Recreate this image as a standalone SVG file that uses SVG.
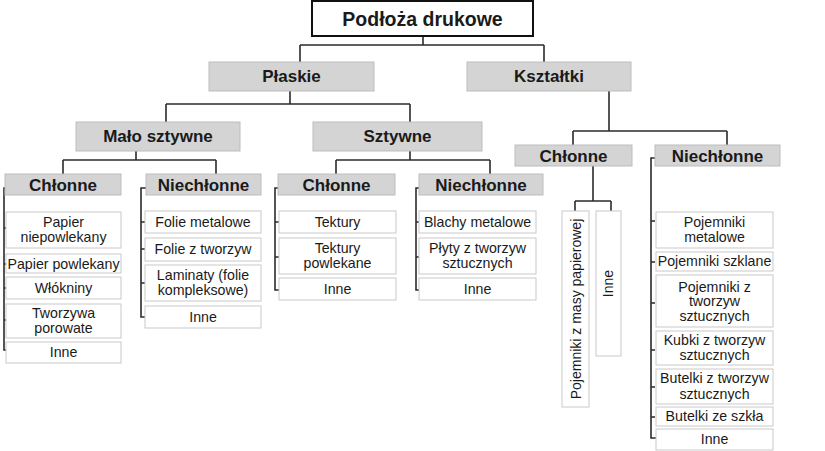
<svg xmlns="http://www.w3.org/2000/svg" width="825" height="451" viewBox="0 0 825 451">
<style>
  .root rect { fill: #ffffff; stroke: #111111; stroke-width: 2; }
  .hdr rect { fill: #d4d4d4; stroke: #bdbdbd; stroke-width: 1; }
  .item rect { fill: #ffffff; stroke: #c9c9c9; stroke-width: 1; }
  text { font-family: "Liberation Sans", Arial, sans-serif; fill: #1a1a1a; text-anchor: middle; }
  .root text { font-size: 19.5px; font-weight: bold; }
  .hdr text { font-size: 17px; font-weight: bold; }
  .item text { font-size: 14.2px; }
  .item text.v { font-size: 14px; }
  .conn path { fill: none; stroke: #2b2b2b; stroke-width: 1.6; }
</style>
<rect width="825" height="451" fill="#ffffff"/>

<g class="conn" id="connectors">
  <path d="M423,36 V45 M300,45 H544 M300,45 V62 M544,45 V62"/>
  <path d="M290,91 V104 M166,104 H410 M166,104 V122 M410,104 V122"/>
  <path d="M609,91 V131 M573,131 H727 M573,131 V145 M727,131 V145"/>
  <path d="M136,151 V160 M63,160 H216 M63,160 V174 M216,160 V174"/>
  <path d="M410,151 V160 M336,160 H490 M336,160 V174 M490,160 V174"/>
  <path d="M593,166 V201 M575,201 H611 M575,201 V211 M611,201 V211"/>
  <path d="M8,188 H4 V350 H8 M4,228 H8 M4,264 H8 M4,288 H8 M4,320 H8"/>
  <path d="M146,188 H141 V317 H146 M141,222 H145 M141,249 H145 M141,283 H145"/>
  <path d="M279,188 H275 V290 H279 M275,222 H279 M275,257 H279"/>
  <path d="M420,188 H416 V290 H420 M416,222 H420 M416,257 H420"/>
  <path d="M656,158 H651 V438 H656 M651,221 H655 M651,262 H655 M651,303 H655 M651,350 H655 M651,387 H655 M651,417 H655"/>
</g>

<g class="root" id="n-root"><rect x="312" y="1" width="221" height="35"/><text x="422.5" y="25.5">Podłoża drukowe</text></g>

<g class="hdr" id="n-plaskie"><rect x="209" y="62" width="165" height="29"/><text x="291.5" y="82">Płaskie</text></g>
<g class="hdr" id="n-ksztaltki"><rect x="467" y="62" width="164" height="29"/><text x="549" y="82">Kształtki</text></g>
<g class="hdr" id="n-malo"><rect x="76" y="122" width="164" height="29"/><text x="158" y="142">Mało sztywne</text></g>
<g class="hdr" id="n-sztywne"><rect x="313" y="122" width="169" height="29"/><text x="397.5" y="142">Sztywne</text></g>
<g class="hdr" id="n-k-chl"><rect x="515" y="145" width="117" height="21"/><text x="573.5" y="161.5">Chłonne</text></g>
<g class="hdr" id="n-k-niechl"><rect x="655" y="145" width="125" height="21"/><text x="717.5" y="161.5">Niechłonne</text></g>
<g class="hdr" id="n-m-chl"><rect x="5" y="174" width="116" height="21"/><text x="63" y="190.5">Chłonne</text></g>
<g class="hdr" id="n-m-niechl"><rect x="146" y="174" width="115" height="21"/><text x="203.5" y="190.5">Niechłonne</text></g>
<g class="hdr" id="n-s-chl"><rect x="278" y="174" width="117" height="21"/><text x="336.5" y="190.5">Chłonne</text></g>
<g class="hdr" id="n-s-niechl"><rect x="419" y="174" width="124" height="21"/><text x="481" y="190.5">Niechłonne</text></g>

<g class="item" id="i-papier-niep"><rect x="6" y="212" width="115" height="36"/><text x="63.5" y="226.5">Papier</text><text x="63.5" y="242">niepowlekany</text></g>
<g class="item" id="i-papier-powl"><rect x="6" y="254" width="115" height="19"/><text x="63.5" y="268.5">Papier powlekany</text></g>
<g class="item" id="i-wlokniny"><rect x="6" y="277" width="115" height="22"/><text x="63.5" y="292.5">Włókniny</text></g>
<g class="item" id="i-tworzywa-por"><rect x="6" y="304" width="115" height="34"/><text x="63.5" y="317.5">Tworzywa</text><text x="63.5" y="333">porowate</text></g>
<g class="item" id="i-m-chl-inne"><rect x="6" y="342" width="115" height="21"/><text x="63.5" y="357">Inne</text></g>

<g class="item" id="i-folie-met"><rect x="145" y="211" width="116" height="22"/><text x="203" y="226.5">Folie metalowe</text></g>
<g class="item" id="i-folie-tw"><rect x="145" y="238" width="116" height="23"/><text x="203" y="254">Folie z tworzyw</text></g>
<g class="item" id="i-laminaty"><rect x="145" y="265" width="116" height="36"/><text x="203" y="279.5">Laminaty (folie</text><text x="203" y="295">kompleksowe)</text></g>
<g class="item" id="i-m-niechl-inne"><rect x="145" y="306" width="116" height="22"/><text x="203" y="321.5">Inne</text></g>

<g class="item" id="i-tektury"><rect x="279" y="211" width="117" height="22"/><text x="337.5" y="226.5">Tektury</text></g>
<g class="item" id="i-tektury-powl"><rect x="279" y="238" width="117" height="36"/><text x="337.5" y="252.5">Tektury</text><text x="337.5" y="268">powlekane</text></g>
<g class="item" id="i-s-chl-inne"><rect x="279" y="278" width="117" height="22"/><text x="337.5" y="293.5">Inne</text></g>

<g class="item" id="i-blachy"><rect x="419" y="211" width="117" height="22"/><text x="477.5" y="226.5">Blachy metalowe</text></g>
<g class="item" id="i-plyty"><rect x="419" y="238" width="117" height="36"/><text x="477.5" y="252.5">Płyty z tworzyw</text><text x="477.5" y="268">sztucznych</text></g>
<g class="item" id="i-s-niechl-inne"><rect x="419" y="278" width="117" height="22"/><text x="477.5" y="293.5">Inne</text></g>

<g class="item" id="i-pojemniki-masy"><rect x="562" y="211" width="27" height="196"/><text class="v" transform="translate(580.5,309) rotate(-90)">Pojemniki z masy papierowej</text></g>
<g class="item" id="i-k-chl-inne"><rect x="596" y="211" width="25" height="145"/><text class="v" transform="translate(613,283.5) rotate(-90)">Inne</text></g>

<g class="item" id="i-poj-met"><rect x="656" y="212" width="117" height="36"/><text x="714.5" y="226.5">Pojemniki</text><text x="714.5" y="242">metalowe</text></g>
<g class="item" id="i-poj-szkl"><rect x="656" y="252" width="117" height="19"/><text x="714.5" y="266">Pojemniki szklane</text></g>
<g class="item" id="i-poj-tw"><rect x="656" y="275" width="117" height="52"/><text x="714.5" y="291.5">Pojemniki z</text><text x="714.5" y="306">tworzyw</text><text x="714.5" y="320.5">sztucznych</text></g>
<g class="item" id="i-kubki"><rect x="656" y="331" width="117" height="34"/><text x="714.5" y="345">Kubki z tworzyw</text><text x="714.5" y="360">sztucznych</text></g>
<g class="item" id="i-butelki-tw"><rect x="656" y="369" width="117" height="35"/><text x="714.5" y="383">Butelki z tworzyw</text><text x="714.5" y="398.5">sztucznych</text></g>
<g class="item" id="i-butelki-szkl"><rect x="656" y="407" width="117" height="19"/><text x="714.5" y="421">Butelki ze szkła</text></g>
<g class="item" id="i-k-niechl-inne"><rect x="656" y="429" width="117" height="21"/><text x="714.5" y="444">Inne</text></g>
</svg>
